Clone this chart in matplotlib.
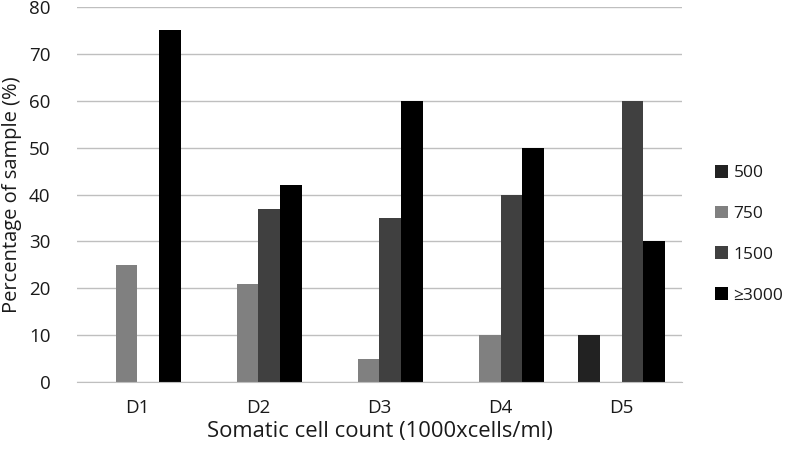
import numpy as np
import matplotlib.pyplot as plt
from matplotlib.patches import Patch

# data
groups = ["D1", "D2", "D3", "D4", "D5"]
series = ["500", "750", "1500", "≥3000"]
v500 = [0, 0, 0, 0, 10]
v750 = [25, 21, 5, 10, 0]
v1500 = [0, 37, 35, 40, 60]
v3000 = [75, 42, 60, 50, 30]
yticks = [0, 10, 20, 30, 40, 50, 60, 70, 80]

colors = ["#222222", "#808080", "#404040", "#000000"]

plt.rcParams['font.family'] = ['Open Sans', 'DejaVu Sans']

fig = plt.figure(figsize=(7.87, 4.55), dpi=100)
ax = fig.add_axes([0.0978, 0.1604, 0.7688, 0.8242])

x = np.arange(len(groups))
w = 0.18
values = [v500, v750, v1500, v3000]
for i, vals in enumerate(values):
    ax.bar(x + (i - 1.5) * w, vals, width=w, color=colors[i], zorder=3)

ax.set_xlim(-0.5, len(groups) - 0.5)
ax.set_ylim(0, 80)
ax.set_yticks(yticks)
ax.set_xticks(x)
ax.set_xticklabels(groups)
ax.tick_params(length=0, labelsize=13.5, colors="#1a1a1a")
ax.tick_params(axis='x', pad=12)
ax.tick_params(axis='y', pad=19)
ax.grid(axis='y', color="#bfbfbf", linewidth=1, zorder=0)
for s in ["top", "right", "left"]:
    ax.spines[s].set_visible(False)
ax.spines["bottom"].set_color("#bfbfbf")
ax.spines["bottom"].set_zorder(4)

ax.set_ylabel("Percentage of sample (%)", fontsize=14.5, color="#1a1a1a", labelpad=5)
ax.set_xlabel("Somatic cell count (1000xcells/ml)", fontsize=15.8, color="#1a1a1a", labelpad=3)

handles = [Patch(facecolor=c) for c in colors]
fig.legend(handles, series, loc="center left", bbox_to_anchor=(0.909, 0.485),
           frameon=False, fontsize=12.5, handlelength=0.75, handleheight=0.75,
           handletextpad=0.3, labelspacing=1.4, labelcolor="#1a1a1a",
           borderpad=0, borderaxespad=0)

fig.savefig("out.png", dpi=100)
